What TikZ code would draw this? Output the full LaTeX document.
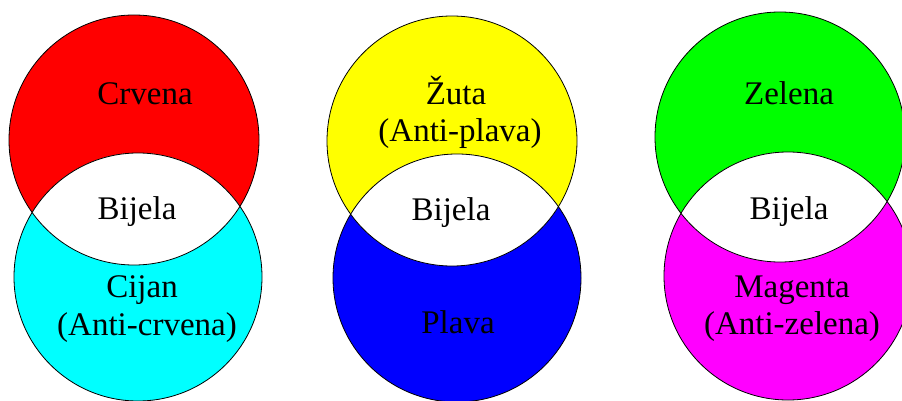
\documentclass[tikz,border=0pt]{standalone}
\usepackage{fontspec}
\setmainfont{Liberation Serif}
\definecolor{cRed}{RGB}{255,0,0}
\definecolor{cCyan}{RGB}{0,255,255}
\definecolor{cYellow}{RGB}{255,255,0}
\definecolor{cBlue}{RGB}{0,0,255}
\definecolor{cGreen}{RGB}{0,255,0}
\definecolor{cMagenta}{RGB}{255,0,255}
\begin{document}
\begin{tikzpicture}[x=1pt,y=-1pt,
  lbl/.style={anchor=base,inner sep=0pt,font=\fontsize{33}{38}\selectfont},
  rim/.style={draw=black,line width=0.8pt}]
\useasboundingbox (0,0) rectangle (902,401);
\clip (0,0) rectangle (902,401);
\fill[white] (0,0) rectangle (902,401);
% centres
\coordinate (rt) at (134,140);
\coordinate (rb) at (138,277);
\coordinate (yt) at (452,141);
\coordinate (yb) at (457,278);
\coordinate (gt) at (780,137);
\coordinate (gb) at (788,276);
% pair 1
\fill[cRed] (rt) circle[radius=125pt];
\fill[cCyan] (rb) circle[radius=124pt];
\begin{scope}
  \clip (rt) circle[radius=125pt];
  \fill[white] (rb) circle[radius=124pt];
\end{scope}
\draw[rim] (rt) circle[radius=125pt];
\draw[rim] (rb) circle[radius=124pt];
% pair 2
\fill[cYellow] (yt) circle[radius=125pt];
\fill[cBlue] (yb) circle[radius=124pt];
\begin{scope}
  \clip (yt) circle[radius=125pt];
  \fill[white] (yb) circle[radius=124pt];
\end{scope}
\draw[rim] (yt) circle[radius=125pt];
\draw[rim] (yb) circle[radius=124pt];
% pair 3
\fill[cGreen] (gt) circle[radius=125pt];
\fill[cMagenta] (gb) circle[radius=124pt];
\begin{scope}
  \clip (gt) circle[radius=125pt];
  \fill[white] (gb) circle[radius=124pt];
\end{scope}
\draw[rim] (gt) circle[radius=125pt];
\draw[rim] (gb) circle[radius=124pt];
% labels
\node[lbl] (crvena) at (145,105) {Crvena};
\node[lbl] (bijela1) at (137,219) {Bijela};
\node[lbl] (cijan) at (142,297) {Cijan};
\node[lbl] (anticrvena) at (147,335) {(Anti-crvena)};
\node[lbl] (zuta) at (456,105) {Žuta};
\node[lbl] (antiplava) at (460,142) {(Anti-plava)};
\node[lbl] (bijela2) at (451,220) {Bijela};
\node[lbl] (plava) at (458,333) {Plava};
\node[lbl] (zelena) at (789,105) {Zelena};
\node[lbl] (bijela3) at (789,219) {Bijela};
\node[lbl] (magenta) at (792,297) {Magenta};
\node[lbl] (antizelena) at (792,334) {(Anti-zelena)};
\end{tikzpicture}
\end{document}
